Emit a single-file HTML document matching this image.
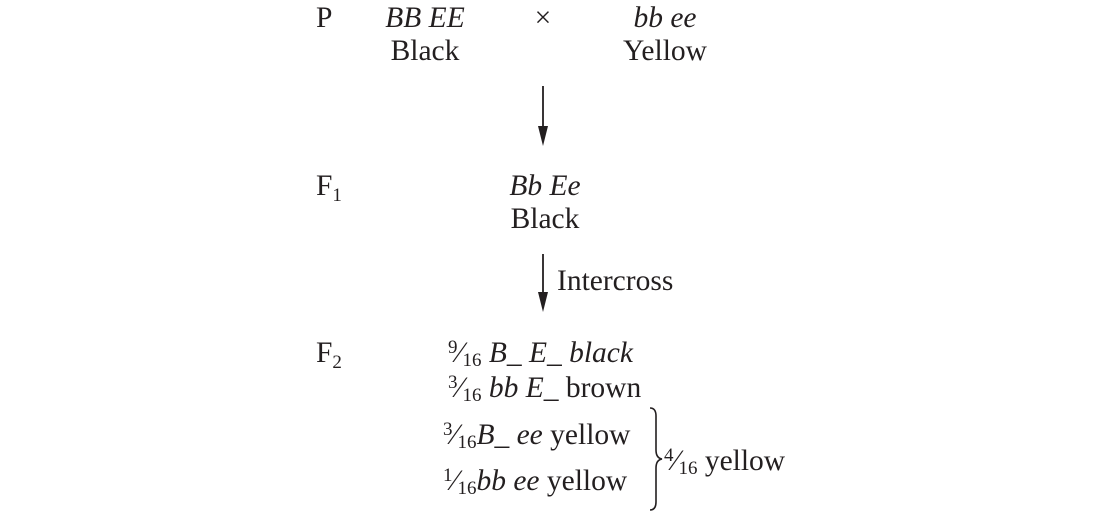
<!DOCTYPE html>
<html><head><meta charset="utf-8"><style>
html,body{margin:0;padding:0;background:#fff;}
svg{display:block;}
text{font-family:"Liberation Serif",serif;font-size:29.5px;fill:#231f20;}
.i{font-style:italic;}
.s{font-size:19px;}
</style></head><body>
<svg width="1100" height="515" viewBox="0 0 1100 515">
<g>
<text x="316" y="27">P</text>
<text x="425" y="27" text-anchor="middle" class="i">BB EE</text>
<text x="425" y="60" text-anchor="middle">Black</text>
<text x="543" y="27" text-anchor="middle">×</text>
<text x="665" y="27" text-anchor="middle" class="i">bb ee</text>
<text x="665" y="60" text-anchor="middle">Yellow</text>
</g>
<g>
<line x1="543" y1="86" x2="543" y2="132" stroke="#231f20" stroke-width="1.8"/>
<polygon points="538,126 548,126 543,146" fill="#231f20"/>
</g>
<g>
<text x="316" y="195">F<tspan class="s" dy="6">1</tspan></text>
<text x="545" y="195" text-anchor="middle" class="i">Bb Ee</text>
<text x="545" y="228" text-anchor="middle">Black</text>
</g>
<g>
<line x1="543" y1="254" x2="543" y2="298" stroke="#231f20" stroke-width="1.8"/>
<polygon points="538,292 548,292 543,312" fill="#231f20"/>
<text x="557" y="290">Intercross</text>
</g>
<g>
<text x="316" y="362">F<tspan class="s" dy="6">2</tspan></text>
<text x="448" y="362"><tspan class="s" dy="-9">9</tspan><tspan dy="9">⁄</tspan><tspan class="s" dy="4">16</tspan><tspan dy="-4" class="i"> B_ E_ black</tspan></text>
<text x="448" y="397"><tspan class="s" dy="-9">3</tspan><tspan dy="9">⁄</tspan><tspan class="s" dy="4">16</tspan><tspan dy="-4" class="i"> bb E_</tspan><tspan> brown</tspan></text>
<text x="443" y="444"><tspan class="s" dy="-9">3</tspan><tspan dy="9">⁄</tspan><tspan class="s" dy="4">16</tspan><tspan dy="-4" class="i">B_ ee</tspan><tspan> yellow</tspan></text>
<text x="443" y="490"><tspan class="s" dy="-9">1</tspan><tspan dy="9">⁄</tspan><tspan class="s" dy="4">16</tspan><tspan dy="-4" class="i">bb ee</tspan><tspan> yellow</tspan></text>
<path d="M650,408 Q656,408 656,416 L656,450 Q656,458 662,459 Q656,460 656,468 L656,502 Q656,510 650,510" fill="none" stroke="#231f20" stroke-width="1.6"/>
<text x="664" y="470"><tspan class="s" dy="-9">4</tspan><tspan dy="9">⁄</tspan><tspan class="s" dy="4">16</tspan><tspan dy="-4"> yellow</tspan></text>
</g>
</svg>
</body></html>
